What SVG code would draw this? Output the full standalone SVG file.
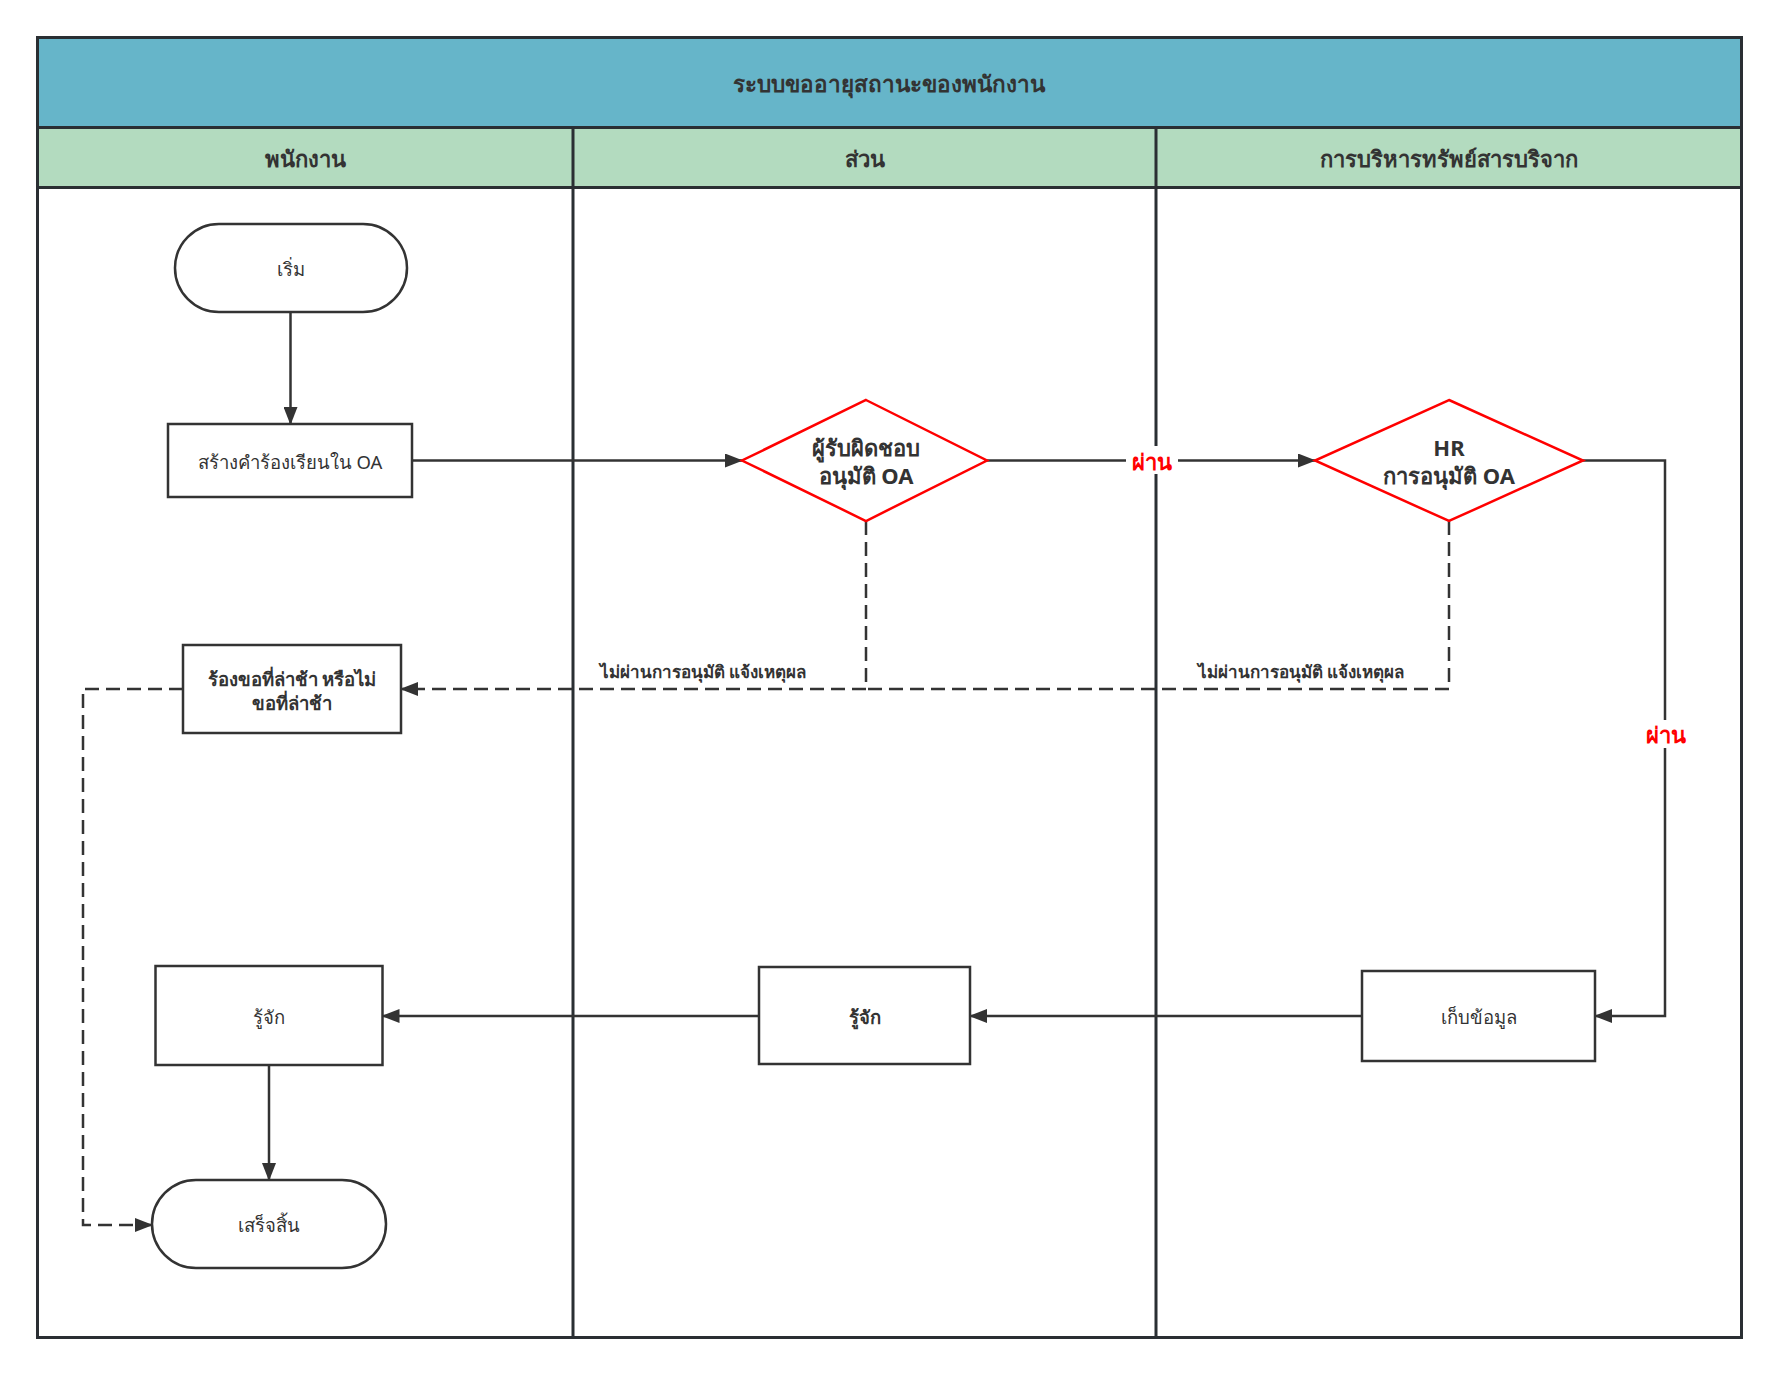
<svg xmlns="http://www.w3.org/2000/svg" width="1779" height="1375" viewBox="0 0 1779 1375">
<style>
.t{font-family:"Noto Sans","DejaVu Sans",sans-serif;fill:#333;text-anchor:middle;dominant-baseline:central}
.b{font-weight:bold}
.node{fill:#fff;stroke:#333;stroke-width:2.5}
.dia{fill:#fff;stroke:#ff0000;stroke-width:2.5}
.ln{fill:none;stroke:#333;stroke-width:2.5}
.dash{stroke-dasharray:14 7}
.red{fill:#ff0000;font-weight:bold}
</style>
<defs>
<marker id="ah" markerWidth="18" markerHeight="14" refX="17" refY="7" orient="auto" markerUnits="userSpaceOnUse">
<path d="M0,0 L18,7 L0,14 z" fill="#333"/>
</marker>
</defs>
<rect width="1779" height="1375" fill="#fff"/>
<g id="pool">
<rect x="37.5" y="37.5" width="1704" height="90" fill="#66b5c9" stroke="#2a2f33" stroke-width="3"/>
<rect x="37.5" y="127.5" width="1704" height="60" fill="#b3dbbf" stroke="#2a2f33" stroke-width="3"/>
<rect x="37.5" y="37.5" width="1704" height="1300" fill="none" stroke="#2a2f33" stroke-width="3"/>
<line x1="573" y1="127.5" x2="573" y2="1337.5" stroke="#2a2f33" stroke-width="3"/>
<line x1="1156" y1="127.5" x2="1156" y2="1337.5" stroke="#2a2f33" stroke-width="3"/>
<text class="t b" x="889" y="83" font-size="22.5">ระบบขออายุสถานะของพนักงาน</text>
<text class="t b" x="305" y="158" font-size="22">พนักงาน</text>
<text class="t b" x="864.5" y="158" font-size="22">ส่วน</text>
<text class="t b" x="1449" y="158" font-size="22">การบริหารทรัพย์สารบริจาก</text>
</g>
<g id="connectors">
<line class="ln" x1="290.5" y1="312" x2="290.5" y2="424" marker-end="url(#ah)"/>
<line class="ln" x1="412" y1="460.5" x2="742" y2="460.5" marker-end="url(#ah)"/>
<line class="ln" x1="987" y1="460.5" x2="1315" y2="460.5" marker-end="url(#ah)"/>
<polyline class="ln" points="1583,460.5 1665,460.5 1665,1016 1595,1016" marker-end="url(#ah)"/>
<line class="ln" x1="1362" y1="1016" x2="970" y2="1016" marker-end="url(#ah)"/>
<line class="ln" x1="759" y1="1016" x2="382.5" y2="1016" marker-end="url(#ah)"/>
<line class="ln" x1="269" y1="1065" x2="269" y2="1180" marker-end="url(#ah)"/>
<polyline class="ln dash" points="866,521 866,689 401,689" marker-end="url(#ah)"/>
<polyline class="ln dash" points="1449,521 1449,689 866,689"/>
<polyline class="ln dash" points="183,689 83,689 83,1225 152,1225" marker-end="url(#ah)"/>
<rect x="1126" y="446" width="52" height="28" fill="#fff"/>
<text class="t red" x="1152" y="461" font-size="22">ผ่าน</text>
<rect x="1640" y="720" width="52" height="28" fill="#fff"/>
<text class="t red" x="1666" y="734" font-size="22">ผ่าน</text>
<text class="t b" x="703" y="671" font-size="17">ไม่ผ่านการอนุมัติ แจ้งเหตุผล</text>
<text class="t b" x="1301" y="671" font-size="17">ไม่ผ่านการอนุมัติ แจ้งเหตุผล</text>
</g>
<g id="start">
<rect class="node" x="175" y="224" width="232" height="88" rx="44"/>
<text class="t" x="291" y="268" font-size="18.5">เริ่ม</text>
</g>
<g id="create">
<rect class="node" x="168" y="424" width="244" height="73"/>
<text class="t" x="290" y="461" font-size="18.5">สร้างคำร้องเรียนใน OA</text>
</g>
<g id="approve1">
<polygon class="dia" points="866,400 987,460.5 866,521 742,460.5"/>
<text class="t b" x="866" y="447" font-size="22">ผู้รับผิดชอบ</text>
<text class="t b" x="866" y="475" font-size="22">อนุมัติ OA</text>
</g>
<g id="approve2">
<polygon class="dia" points="1449,400 1583,460.5 1449,521 1315,460.5"/>
<text class="t b" x="1449" y="447" font-size="22">HR</text>
<text class="t b" x="1449" y="475" font-size="22">การอนุมัติ OA</text>
</g>
<g id="reject">
<rect class="node" x="183" y="645" width="218" height="88"/>
<text class="t b" x="292" y="678" font-size="18.5">ร้องขอที่ล่าช้า หรือไม่</text>
<text class="t b" x="292" y="702" font-size="18.5">ขอที่ล่าช้า</text>
</g>
<g id="store">
<rect class="node" x="1362" y="971" width="233" height="90"/>
<text class="t" x="1478.5" y="1016" font-size="18.5">เก็บข้อมูล</text>
</g>
<g id="ack-mid">
<rect class="node" x="759" y="967" width="211" height="97"/>
<text class="t b" x="864.5" y="1016" font-size="18.5">รู้จัก</text>
</g>
<g id="ack-left">
<rect class="node" x="155.5" y="966" width="227" height="99"/>
<text class="t" x="269" y="1016" font-size="18.5">รู้จัก</text>
</g>
<g id="end">
<rect class="node" x="152" y="1180" width="234" height="88" rx="44"/>
<text class="t" x="269" y="1224" font-size="18.5">เสร็จสิ้น</text>
</g>
</svg>
